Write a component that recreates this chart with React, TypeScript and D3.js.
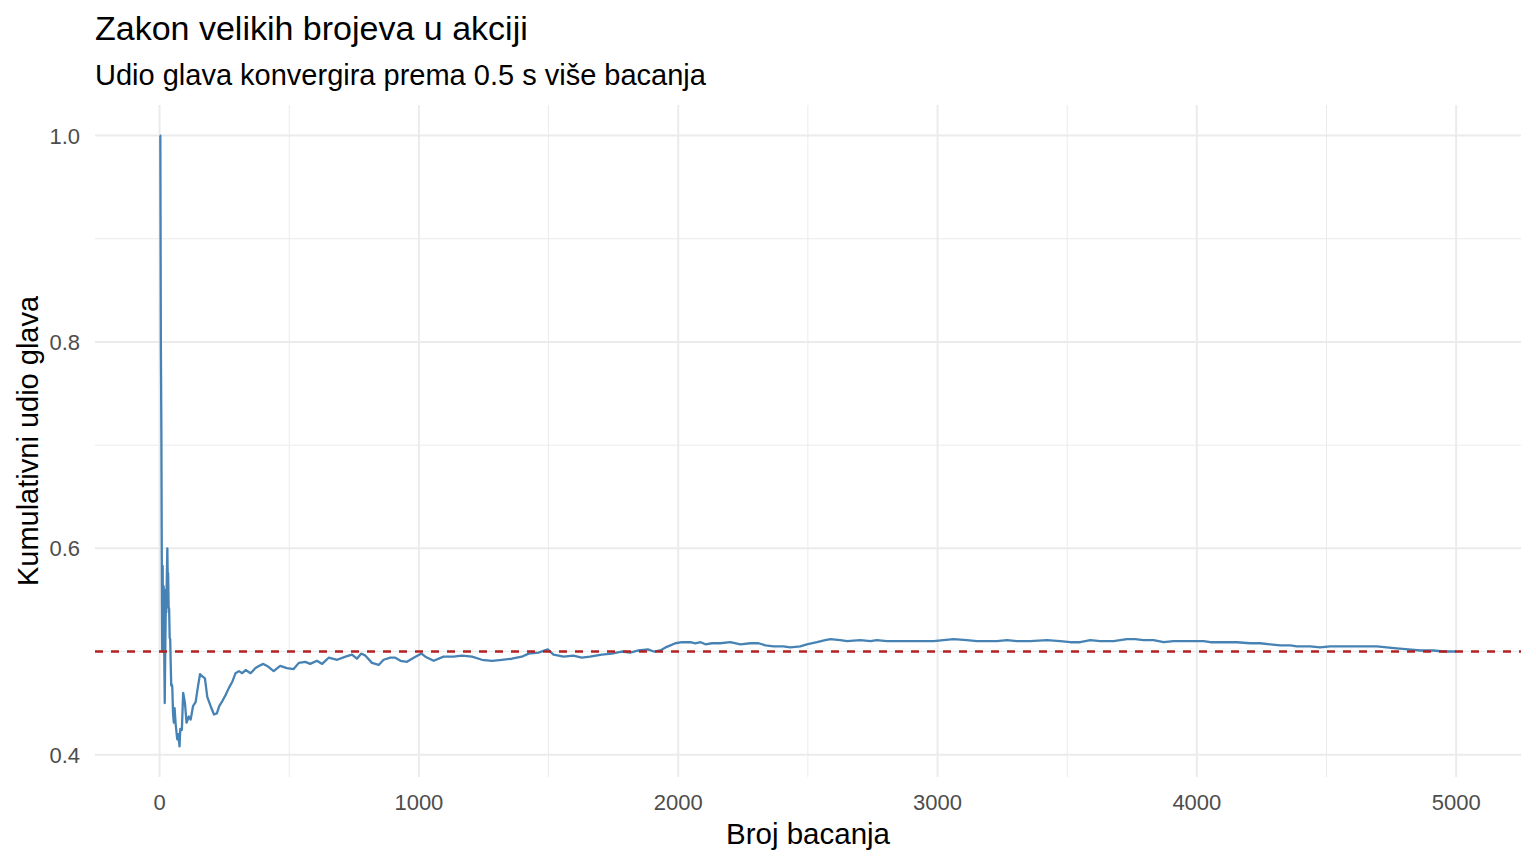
import React from "react";
import * as d3 from "d3";

// broj bacanja i kumulativni udio glava (očitano sa slike)
const flips = [
  1, 3, 5, 7, 9, 10, 11, 12, 13, 14, 16, 17, 18, 19, 20, 21, 22, 23, 24, 25, 26, 27, 28, 29, 30,
  31, 32, 33, 34, 35, 37, 39, 41, 43, 45, 47, 49, 52, 55, 58, 62, 64, 68, 72, 75, 77, 80, 86, 91,
  98, 104, 113, 120, 129, 139, 148, 156, 165, 175, 184, 197, 210, 221, 230, 242, 255, 268, 281,
  293, 306, 319, 332, 351, 370, 383, 400, 415, 440, 465, 491, 517, 537, 562, 581, 607, 627, 652,
  685, 717, 742, 761, 778, 794, 819, 845, 864, 890, 909, 929, 954, 980, 1010, 1025, 1057, 1095,
  1134, 1166, 1205, 1243, 1282, 1320, 1359, 1397, 1423, 1461, 1497, 1519, 1558, 1596, 1628, 1660,
  1705, 1744, 1782, 1815, 1847, 1883, 1906, 1931, 1951, 1970, 1989, 2015, 2047, 2066, 2086, 2105,
  2130, 2162, 2201, 2240, 2278, 2310, 2336, 2368, 2406, 2432, 2471, 2496, 2535, 2567, 2587, 2625,
  2651, 2702, 2741, 2766, 2805, 2856, 2921, 2985, 3023, 3062, 3113, 3152, 3190, 3229, 3268, 3306,
  3357, 3422, 3473, 3512, 3550, 3589, 3627, 3679, 3730, 3762, 3794, 3833, 3872, 3910, 3949, 3987,
  4026, 4052, 4103, 4154, 4206, 4244, 4283, 4322, 4360, 4386, 4437, 4475, 4514, 4565, 4604, 4655,
  4694, 4732, 4771, 4816, 4861, 4912, 4951, 5000,
];

const proportion = [
  1.0, 1.0, 0.8, 0.714, 0.556, 0.5, 0.545, 0.583, 0.538, 0.5, 0.563, 0.529, 0.5, 0.474, 0.45,
  0.476, 0.5, 0.522, 0.542, 0.56, 0.538, 0.556, 0.571, 0.586, 0.6, 0.581, 0.563, 0.576, 0.559,
  0.543, 0.541, 0.513, 0.512, 0.488, 0.467, 0.468, 0.466, 0.44, 0.431, 0.445, 0.43, 0.425, 0.415,
  0.42, 0.413, 0.408, 0.425, 0.424, 0.46, 0.45, 0.431, 0.437, 0.434, 0.447, 0.451, 0.466, 0.478,
  0.476, 0.474, 0.456, 0.447, 0.439, 0.44, 0.447, 0.452, 0.458, 0.465, 0.471, 0.479, 0.481, 0.479,
  0.482, 0.479, 0.484, 0.486, 0.488, 0.486, 0.481, 0.486, 0.484, 0.483, 0.489, 0.49, 0.488, 0.491,
  0.488, 0.494, 0.492, 0.495, 0.497, 0.493, 0.498, 0.496, 0.489, 0.487, 0.492, 0.494, 0.494, 0.491,
  0.49, 0.494, 0.498, 0.495, 0.491, 0.495, 0.495, 0.496, 0.495, 0.492, 0.491, 0.492, 0.493, 0.495,
  0.498, 0.499, 0.502, 0.497, 0.495, 0.496, 0.494, 0.495, 0.497, 0.498, 0.5, 0.499, 0.501, 0.502,
  0.5, 0.501, 0.504, 0.506, 0.508, 0.509, 0.509, 0.508, 0.509, 0.507, 0.508, 0.508, 0.509, 0.507,
  0.508, 0.508, 0.506, 0.505, 0.505, 0.504, 0.505, 0.507, 0.509, 0.511, 0.512, 0.511, 0.51, 0.511,
  0.51, 0.511, 0.51, 0.51, 0.51, 0.51, 0.511, 0.512, 0.511, 0.51, 0.51, 0.51, 0.511, 0.51, 0.51,
  0.511, 0.51, 0.509, 0.509, 0.511, 0.51, 0.51, 0.512, 0.512, 0.511, 0.511, 0.509, 0.51, 0.51,
  0.51, 0.51, 0.509, 0.509, 0.509, 0.508, 0.508, 0.507, 0.506, 0.506, 0.505, 0.505, 0.504, 0.505,
  0.505, 0.505, 0.505, 0.505, 0.504, 0.503, 0.502, 0.501, 0.501, 0.5, 0.5,
];

const xTicks = [0, 1000, 2000, 3000, 4000, 5000];
const xMinor = [500, 1500, 2500, 3500, 4500];
const yTicks = [0.4, 0.6, 0.8, 1.0];
const yMinor = [0.5, 0.7, 0.9];
const target = 0.5;

const font = "'Liberation Sans', Arial, sans-serif";

const App = () => {
  const width = 1536;
  const height = 864;
  const panel = { left: 95, right: 1521, top: 105, bottom: 777 };

  const points = flips.map((n, i) => ({ n, p: proportion[i] }));

  const nExt = d3.extent(flips) as [number, number];
  const nPad = (nExt[1] - nExt[0]) * 0.05;
  const x = d3
    .scaleLinear()
    .domain([nExt[0] - nPad, nExt[1] + nPad])
    .range([panel.left, panel.right]);

  const pExt = d3.extent(proportion) as [number, number];
  const pPad = (pExt[1] - pExt[0]) * 0.05;
  const y = d3
    .scaleLinear()
    .domain([pExt[0] - pPad, pExt[1] + pPad])
    .range([panel.bottom, panel.top]);

  const line = d3
    .line<{ n: number; p: number }>()
    .x((d) => x(d.n))
    .y((d) => y(d.p));

  return (
    <svg
      width={width}
      height={height}
      style={{ position: "absolute", left: 0, top: 0, background: "#fff" }}
      fontFamily={font}
    >
      <rect width={width} height={height} fill="#fff" />

      {/* minor grid */}
      {xMinor.map((t) => (
        <line key={"xm" + t} x1={x(t)} x2={x(t)} y1={panel.top} y2={panel.bottom} stroke="#ebebeb" strokeWidth={1} />
      ))}
      {yMinor.map((t) => (
        <line key={"ym" + t} x1={panel.left} x2={panel.right} y1={y(t)} y2={y(t)} stroke="#ebebeb" strokeWidth={1} />
      ))}
      {/* major grid */}
      {xTicks.map((t) => (
        <line key={"x" + t} x1={x(t)} x2={x(t)} y1={panel.top} y2={panel.bottom} stroke="#ebebeb" strokeWidth={2} />
      ))}
      {yTicks.map((t) => (
        <line key={"y" + t} x1={panel.left} x2={panel.right} y1={y(t)} y2={y(t)} stroke="#ebebeb" strokeWidth={2} />
      ))}

      <path d={line(points) ?? ""} fill="none" stroke="steelblue" strokeWidth={2.3} strokeLinejoin="round" />

      <line
        x1={panel.left}
        x2={panel.right}
        y1={y(target)}
        y2={y(target)}
        stroke="#b22222"
        strokeWidth={2.4}
        strokeDasharray="8,8"
      />

      {/* tick labels */}
      {xTicks.map((t) => (
        <text key={"xl" + t} x={x(t)} y={810} textAnchor="middle" fontSize={22} fill="#4d4d4d">
          {t}
        </text>
      ))}
      {yTicks.map((t) => (
        <text key={"yl" + t} x={80} y={y(t) + 8} textAnchor="end" fontSize={22} fill="#4d4d4d">
          {d3.format(".1f")(t)}
        </text>
      ))}

      {/* axis titles */}
      <text x={(panel.left + panel.right) / 2} y={844} textAnchor="middle" fontSize={29.5} fill="#000">
        Broj bacanja
      </text>
      <text
        transform={`translate(38, ${(panel.top + panel.bottom) / 2}) rotate(-90)`}
        textAnchor="middle"
        fontSize={29}
        fill="#000"
      >
        Kumulativni udio glava
      </text>

      {/* titles */}
      <text x={95} y={40} fontSize={34} fill="#000">
        Zakon velikih brojeva u akciji
      </text>
      <text x={95} y={85} fontSize={29} fill="#000">
        Udio glava konvergira prema 0.5 s više bacanja
      </text>
    </svg>
  );
};

export default App;
